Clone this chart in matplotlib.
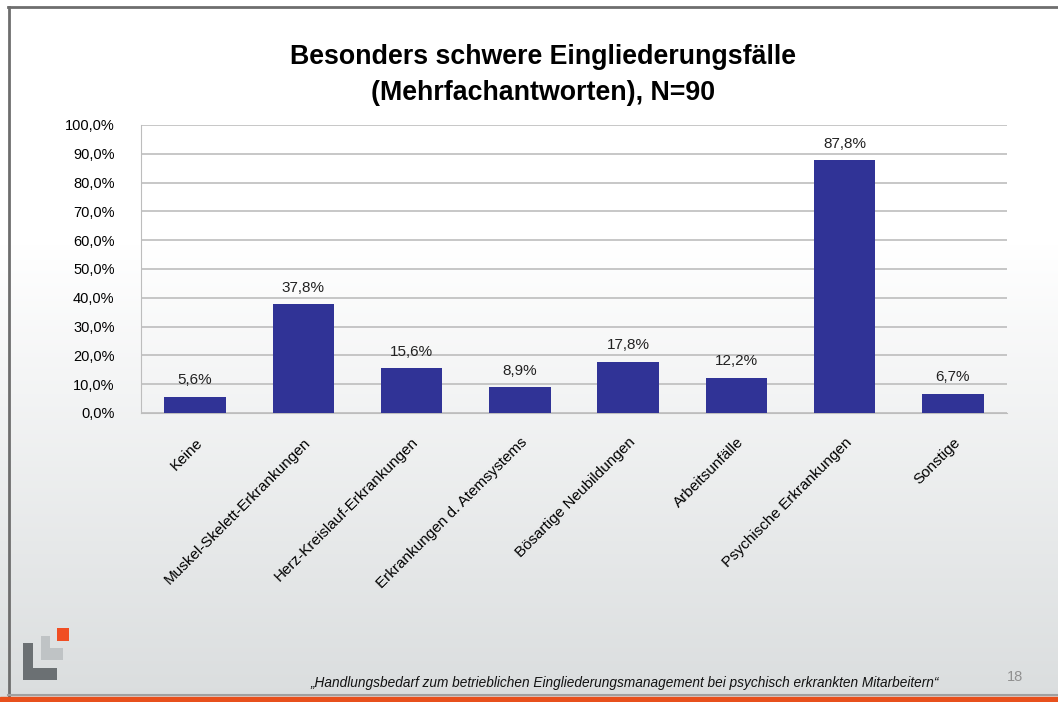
import numpy as np
import matplotlib
matplotlib.use("Agg")
import matplotlib.pyplot as plt
from matplotlib.patches import Rectangle
from matplotlib.lines import Line2D

plt.rcParams['font.family'] = ['Liberation Sans', 'DejaVu Sans']

categories = ["Keine", "Muskel-Skelett-Erkrankungen", "Herz-Kreislauf-Erkrankungen",
              "Erkrankungen d. Atemsystems", "Bösartige Neubildungen", "Arbeitsunfälle",
              "Psychische Erkrankungen", "Sonstige"]
values = [5.6, 37.8, 15.6, 8.9, 17.8, 12.2, 87.8, 6.7]
yticks = [0, 10, 20, 30, 40, 50, 60, 70, 80, 90, 100]

W, H = 1058, 702
fig = plt.figure(figsize=(W / 100, H / 100), dpi=100)

# slide background gradient
bg = fig.add_axes([0, 0, 1, 1], zorder=-10)
grad = np.linspace(0, 1, 256)[:, None]
top = np.array([1.0, 1.0, 1.0])
bot = np.array([0.855, 0.867, 0.871])
shade = np.clip((grad - 0.35) / 0.65, 0, 1)
img = top[None, None, :] * (1 - shade[..., None]) + bot[None, None, :] * shade[..., None]
bg.imshow(img, aspect='auto', extent=[0, 1, 0, 1], origin='upper')
bg.set_xlim(0, 1)
bg.set_ylim(0, 1)
bg.axis("off")

# slide frame lines
fig.add_artist(Line2D([8 / W, 1], [1 - 7 / H] * 2, color="#6e6e6e", lw=2))
fig.add_artist(Line2D([8.5 / W] * 2, [1 - 7 / H, 1 - 696 / H], color="#6e6e6e", lw=2))
fig.add_artist(Line2D([8 / W, 1], [1 - 695 / H] * 2, color="#a0a0a0", lw=1.5))
fig.add_artist(Rectangle((0, 0), 1, 5.5 / H, transform=fig.transFigure,
                         color="#e8501c", zorder=5))

# logo
def block(x0, y0, x1, y1, c):
    fig.add_artist(Rectangle((x0 / W, 1 - y1 / H), (x1 - x0) / W, (y1 - y0) / H,
                             transform=fig.transFigure, color=c, lw=0))

block(41, 636, 50, 660, "#bfc3c5")
block(41, 648, 63, 660, "#bfc3c5")
block(23, 643, 33, 680, "#6b7073")
block(23, 668, 57, 680, "#6b7073")
block(57, 628, 69, 641, "#f04e23")

# chart
ax = fig.add_axes([141 / W, 1 - 413 / H, (1007 - 141) / W, (413 - 125) / H])
ax.patch.set_alpha(0)
x = np.arange(len(categories))
ax.bar(x, values, width=0.57, color="#303396", zorder=3)
ax.set_xlim(-0.5, len(categories) - 0.5)
ax.set_ylim(0, 100)
ax.set_yticks(yticks)
ax.set_yticklabels([f"{v:.1f}%".replace(".", ",") for v in yticks], fontsize=10.5)
ax.yaxis.grid(True, color="#bdbdbd", lw=1.2, zorder=0)
ax.tick_params(axis="y", length=0, pad=19)
ax.tick_params(axis="x", length=0, pad=16)
for s in ["top", "right"]:
    ax.spines[s].set_visible(False)
ax.spines["left"].set_color("#bdbdbd")
ax.spines["bottom"].set_color("#bdbdbd")
ax.set_xticks(x)
ax.set_xticklabels(categories, rotation=45, ha="right", rotation_mode="anchor",
                   fontsize=11)
for xi, v in zip(x, values):
    ax.text(xi, v + 3.3, f"{v:.1f}%".replace(".", ","), ha="center", va="bottom",
            fontsize=11, color="#222222")

fig.text(543 / W, 1 - 75 / H, "Besonders schwere Eingliederungsfälle\n(Mehrfachantworten), N=90",
         ha="center", va="center", fontsize=19.3, fontweight="bold", linespacing=1.55)
fig.text(625 / W, 1 - 683 / H,
         "„Handlungsbedarf zum betrieblichen Eingliederungsmanagement bei psychisch erkrankten Mitarbeitern“",
         ha="center", va="center", fontsize=9.8, style="italic", color="#111111")
fig.text(1015 / W, 1 - 677 / H, "18", ha="center", va="center", fontsize=10.5, color="#909090")

fig.savefig("out.png", dpi=100)
